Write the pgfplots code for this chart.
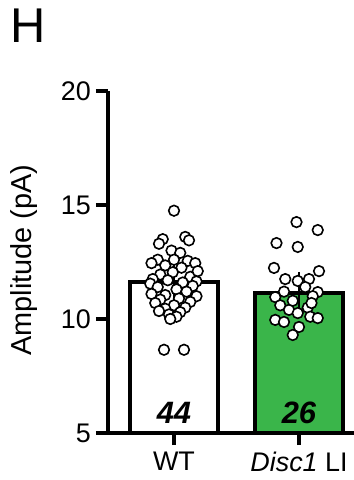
\documentclass[border=0pt]{standalone}
\usepackage{fontspec}
\setmainfont{Liberation Sans}
\usepackage{pgfplots}
\pgfplotsset{compat=1.18}
\definecolor{barg}{RGB}{58,181,74}
\begin{document}
\begin{tikzpicture}
\useasboundingbox (0,0) rectangle (354bp,480bp);
\node[anchor=base west, inner sep=0pt] at (10bp,437bp) {\fontsize{49}{49}\selectfont H};
\begin{axis}[
 at={(108bp,47bp)}, anchor=south west,
 scale only axis, width=246bp, height=342bp,
 xmin=-0.528, xmax=1.44, ymin=5, ymax=20,
 axis x line*=bottom, axis y line*=left,
 axis line style={-, line width=4bp, black},
 xtick={0,1}, xticklabels={WT,\textit{Disc1} LI},
 ytick={5,10,15,20},
 tick align=outside, major tick length=12bp,
 tick style={black, line width=4bp},
 xticklabel style={font=\fontsize{27}{27}\selectfont, inner sep=7bp},
 yticklabel style={font=\fontsize{27}{27}\selectfont, inner sep=5bp},
 /pgf/number format/assume math mode=true,
 ylabel={Amplitude (pA)},
 ylabel style={font=\fontsize{29}{29}\selectfont, at={(rel axis cs:-0.341,0.506)}, anchor=center},
]
\addplot[ybar, bar shift=0pt, bar width=0.7, fill=white, draw=black, line width=4bp] coordinates {(0,11.62)};
\addplot[ybar, bar shift=0pt, bar width=0.7, fill=barg, draw=black, line width=4bp] coordinates {(1,11.15)};
\addplot[only marks, mark=*, mark size=5.3bp, mark options={fill=white, draw=black, line width=1.6bp}] table {
x y
0.00 14.75
0.09 13.6
0.12 13.45
-0.09 13.5
-0.12 13.3
-0.02 13.0
0.05 12.9
-0.13 12.6
-0.18 12.45
0.11 12.55
0.17 12.45
0.00 12.6
-0.07 12.35
0.06 12.25
-0.01 12.05
-0.11 11.95
0.13 11.85
-0.17 11.75
0.18 11.65
-0.19 11.55
0.07 11.6
-0.05 11.7
0.15 11.45
-0.13 11.4
0.02 11.3
0.10 11.2
-0.18 11.1
-0.07 11.05
0.18 11.0
0.04 10.9
-0.11 10.85
0.13 10.75
-0.15 10.7
0.00 10.6
0.09 10.5
-0.07 10.45
0.05 10.3
-0.04 10.2
0.02 10.1
-0.03 10.0
-0.12 10.35
0.19 12.1
-0.08 8.65
0.08 8.65
};
\addplot[only marks, mark=*, mark size=5.3bp, mark options={fill=white, draw=black, line width=1.6bp}] table {
x y
0.98 14.25
1.15 13.9
0.82 13.33
0.99 13.16
0.80 12.24
1.16 12.1
0.89 11.75
0.99 11.67
1.08 11.75
1.15 11.18
0.81 10.96
1.11 11.0
0.85 10.6
0.92 10.4
0.99 10.26
1.07 10.5
1.09 10.1
1.15 10.04
0.81 9.96
0.88 9.87
1.00 9.65
0.95 9.3
0.95 10.8
0.88 11.2
1.10 10.7
1.05 11.4
};
\addplot[draw=none, mark=none, error bars/.cd, y dir=both, y explicit,
  error bar style={draw=black, line width=2bp},
  error mark options={draw=black, line width=2bp, mark size=16bp}]
  coordinates {(0,11.62) +- (0,0.17) (1,11.15) +- (0,0.21)};
\node[anchor=base, inner sep=0pt, yshift=10bp] at (axis cs:0,5) {\fontsize{31}{31}\selectfont\bfseries\itshape 44};
\node[anchor=base, inner sep=0pt, yshift=10bp] at (axis cs:1,5) {\fontsize{31}{31}\selectfont\bfseries\itshape 26};
\end{axis}
\end{tikzpicture}
\end{document}
